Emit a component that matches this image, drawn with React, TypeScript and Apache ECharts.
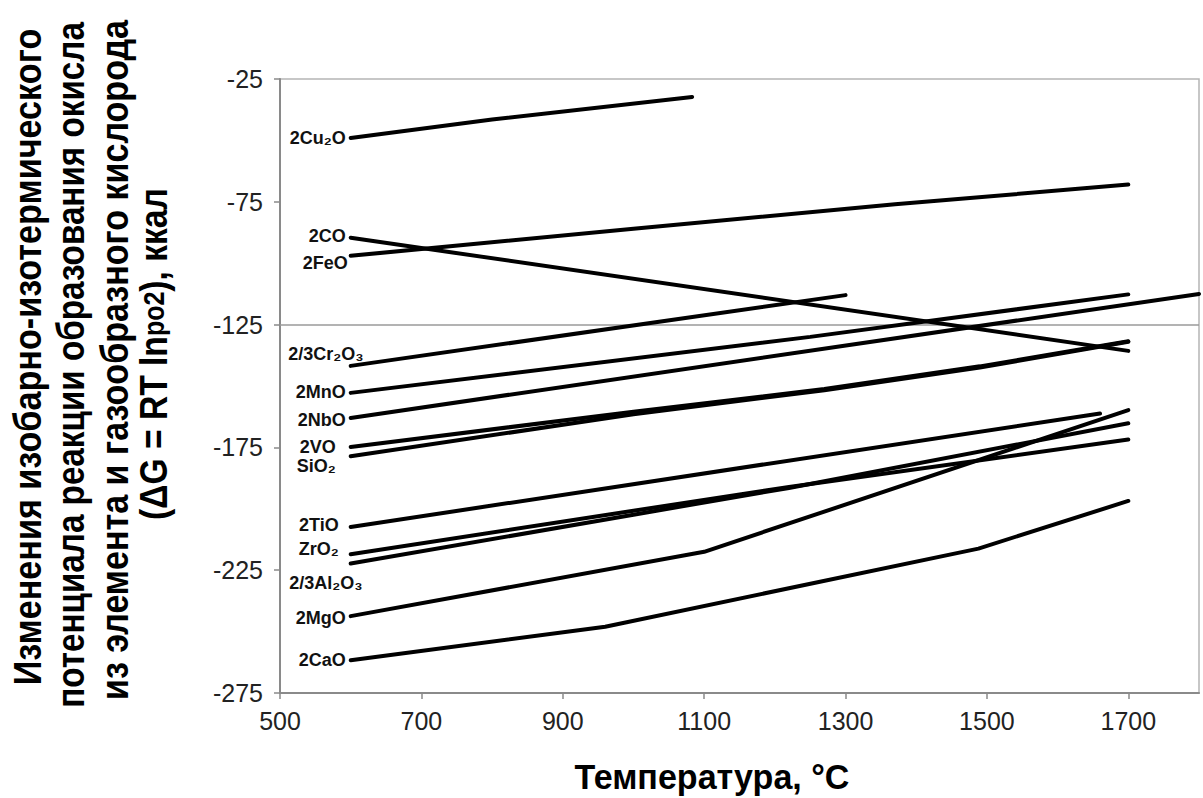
import React, { useEffect, useRef } from "react";
import * as echarts from "echarts";

// ---- data (temperature °C, ΔG kcal) ----
const CU2O = [[600, -49], [800, -41.5], [1083, -32.3]];
const CO = [[600, -89.6], [1700, -135.7]];
const FEO = [[600, -97], [1000, -86], [1370, -76], [1700, -68]];
const CR2O3 = [[600, -141.8], [1300, -113]];
const MNO = [[600, -152.8], [1250, -130], [1700, -112.7]];
const NBO = [[600, -163], [1800, -112.5]];
const VO = [[600, -174.8], [1000, -160.5], [1270, -151.2], [1490, -142], [1700, -131.8]];
const SIO2 = [[600, -178.6], [1000, -161.5], [1270, -151.7], [1490, -142.5], [1700, -132]];
const TIO = [[600, -207.4], [1660, -161.2]];
const ZRO2 = [[600, -218.5], [1000, -200.8], [1220, -191.1], [1700, -171.8]];
const AL2O3 = [[600, -222.3], [1000, -202.4], [1220, -191.5], [1700, -165.2]];
const MGO = [[600, -243.7], [1100, -217.5], [1700, -159.8]];
const CAO = [[600, -261.7], [960, -248], [1488, -216.2], [1700, -196.8]];

const SERIES_DATA = [CU2O, CO, FEO, CR2O3, MNO, NBO, VO, SIO2, TIO, ZRO2, AL2O3, MGO, CAO];
const SERIES_NAMES = [
  "2Cu₂O", "2CO", "2FeO", "2/3Cr₂O₃", "2MnO", "2NbO", "2VO",
  "SiO₂", "2TiO", "ZrO₂", "2/3Al₂O₃", "2MgO", "2CaO",
];

const X_TICKS = [500, 700, 900, 1100, 1300, 1500, 1700];
const Y_TICKS = [-275, -225, -175, -125, -75, -25];
const REF_LINE = -125;

const Y_TITLE = [
  "Изменения изобарно-изотермического",
  "потенциала реакции образования окисла",
  "из элемента и газообразного кислорода",
];
const Y_TITLE_LAST_A = "(ΔG = RT ln";
const Y_TITLE_LAST_B = "po2";
const Y_TITLE_LAST_C = "), ккал";
const X_TITLE = "Температура, °C";

// ---- style / layout ----
const LABEL_OFFSETS = [
  [0, 0], [0, -2], [2, 7], [18, -12], [0, -1], [0, 2], [-10, 0],
  [-10, 10], [-7, -2], [-7, -5], [17, 19], [0, 2], [0, 0],
];
// [centre x, centre y, target length] of each rotated title column
const TITLE_BOXES = [
  [28, 357, 657],
  [71, 365, 686],
  [115, 360, 680],
  [154, 354, 332],
];

const SANS = "'Liberation Sans', Arial, sans-serif";
const TITLE_SIZE = 39;
const TITLE_SUB = 29;
const XTITLE_SIZE = 36;

function measure(text: string, size: number): number {
  const ctx = document.createElement("canvas").getContext("2d");
  if (!ctx) return text.length * size * 0.6;
  ctx.font = `bold ${size}px 'Liberation Sans', Arial, sans-serif`;
  return ctx.measureText(text).width;
}

export default function App() {
  const ref = useRef<HTMLDivElement>(null);

  useEffect(() => {
    if (!ref.current) return;
    const chart = echarts.init(ref.current, null, { renderer: "svg" });

    const series: any[] = SERIES_DATA.map((d, i) => ({
      type: "line",
      name: SERIES_NAMES[i],
      data: d,
      symbol: "circle",
      symbolSize: 0.01,
      showSymbol: true,
      lineStyle: { color: "#000", width: 4, cap: "round" },
      itemStyle: { color: "#000" },
      label: {
        show: true,
        position: "left",
        distance: 5,
        offset: LABEL_OFFSETS[i],
        formatter: (p: any) => (p.dataIndex === 0 ? SERIES_NAMES[i] : ""),
        fontFamily: SANS,
        fontWeight: "bold",
        fontSize: 18,
        color: "#111",
      },
      z: 3,
    }));

    series[0].markLine = {
      silent: true,
      symbol: "none",
      label: { show: false },
      lineStyle: { color: "#9a9a9a", width: 1.5, type: "solid" },
      data: [{ yAxis: REF_LINE }],
      z: 1,
    };

    const titleTexts: any[] = Y_TITLE.map((t, i) => {
      const [cx, cy, len] = TITLE_BOXES[i];
      return {
        type: "text",
        x: cx,
        y: cy,
        rotation: Math.PI / 2,
        scaleX: len / measure(t, TITLE_SIZE),
        style: {
          text: t,
          fontFamily: SANS,
          fontWeight: "bold",
          fontSize: TITLE_SIZE,
          fill: "#000",
          align: "center",
          verticalAlign: "middle",
        },
      };
    });
    const lastW =
      measure(Y_TITLE_LAST_A + Y_TITLE_LAST_C, TITLE_SIZE) + measure(Y_TITLE_LAST_B, TITLE_SUB);
    const [lx, ly, llen] = TITLE_BOXES[3];
    titleTexts.push({
      type: "text",
      x: lx,
      y: ly,
      rotation: Math.PI / 2,
      scaleX: llen / lastW,
      style: {
        text: `${Y_TITLE_LAST_A}{s|${Y_TITLE_LAST_B}}${Y_TITLE_LAST_C}`,
        fontFamily: SANS,
        fontWeight: "bold",
        fontSize: TITLE_SIZE,
        fill: "#000",
        align: "center",
        verticalAlign: "middle",
        rich: {
          s: { fontFamily: SANS, fontWeight: "bold", fontSize: TITLE_SUB, fill: "#000" },
        },
      },
    });
    titleTexts.push({
      type: "text",
      x: 712,
      y: 776,
      scaleX: 275 / measure(X_TITLE, XTITLE_SIZE),
      style: {
        text: X_TITLE,
        fontFamily: SANS,
        fontWeight: "bold",
        fontSize: XTITLE_SIZE,
        fill: "#000",
        align: "center",
        verticalAlign: "middle",
      },
    });

    const axisCommon = {
      type: "value",
      axisLine: { show: true, lineStyle: { color: "#8a8a8a", width: 2 } },
      splitLine: { show: false },
    };

    const option: any = {
      animation: false,
      backgroundColor: "#fff",
      grid: {
        left: 280,
        right: 4,
        top: 79,
        bottom: 105,
        show: true,
        borderColor: "#b5b5b5",
        borderWidth: 1.5,
        containLabel: false,
      },
      xAxis: {
        ...axisCommon,
        min: 500,
        max: 1800,
        axisTick: {
          show: true,
          inside: false,
          length: 6,
          customValues: X_TICKS,
          lineStyle: { color: "#8a8a8a", width: 1.5 },
        },
        axisLabel: {
          customValues: X_TICKS,
          formatter: (v: number) => String(v),
          margin: 15,
          fontFamily: SANS,
          fontSize: 25,
          color: "#222",
        },
      },
      yAxis: {
        ...axisCommon,
        min: -275,
        max: -25,
        axisTick: {
          show: true,
          inside: false,
          length: 6,
          customValues: Y_TICKS,
          lineStyle: { color: "#8a8a8a", width: 1.5 },
        },
        axisLabel: {
          customValues: Y_TICKS,
          formatter: (v: number) => String(v),
          margin: 17,
          fontFamily: SANS,
          fontSize: 25,
          color: "#222",
        },
      },
      series,
      graphic: titleTexts,
    };

    chart.setOption(option);
    return () => chart.dispose();
  }, []);

  return (
    <div
      ref={ref}
      style={{ position: "fixed", left: 0, top: 0, width: 1203, height: 798, background: "#fff" }}
    />
  );
}
